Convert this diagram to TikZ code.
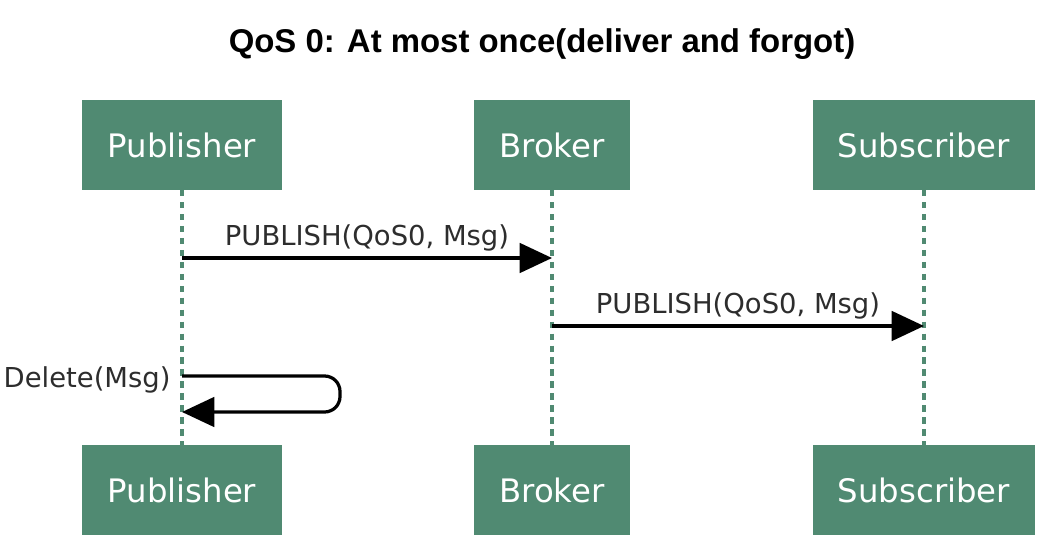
\documentclass[tikz,border=0pt]{standalone}
\usepackage{fontspec}
\setmainfont{DejaVu Sans}
\newfontfamily\titlefont{Liberation Sans}
\usetikzlibrary{arrows.meta,positioning}

\definecolor{boxgreen}{RGB}{80,138,114}
\definecolor{msggray}{RGB}{45,45,45}

\tikzset{
  actor/.style={fill=boxgreen, text=white, font=\fontsize{23}{27}\selectfont, minimum height=63.8pt, inner xsep=18pt},
  lifeline/.style={boxgreen, line width=3.3pt, dash pattern=on 4.5pt off 4pt},
  msg/.style={line width=2.3pt, -{Triangle[length=23pt,width=21pt]}},
  msglabel/.style={font=\fontsize{19.5}{23}\selectfont, text=msggray, inner sep=1pt},
}

\begin{document}
\begin{tikzpicture}[x=0.025cm, y=-0.025cm]
    \useasboundingbox (0,0) rectangle (1055,552);

    % Title
    \node (title) at (542,44) {\titlefont\bfseries\fontsize{23.4}{28}\selectfont QoS 0: At most once(deliver and forgot)};

    % Actors
    \node (pub_top) [actor] at (182,145) {Publisher};
    \node (brk_top) [actor] at (552,145) {Broker};
    \node (sub_top) [actor] at (924,145) {Subscriber};
    \node (pub_bot) [actor, below of=pub_top, node distance=8.625cm] {Publisher};
    \node (brk_bot) [actor, below of=brk_top, node distance=8.625cm] {Broker};
    \node (sub_bot) [actor, below of=sub_top, node distance=8.625cm] {Subscriber};

    % Lifelines
    \draw [lifeline] (pub_top) -- (pub_bot);
    \draw [lifeline] (brk_top) -- (brk_bot);
    \draw [lifeline] (sub_top) -- (sub_bot);

    % Points on the lifelines
    \coordinate (pub_send) at (pub_top.south |- 0,258);
    \coordinate (brk_recv) at (brk_top.south |- 0,258);
    \coordinate (brk_send) at (brk_top.south |- 0,326);
    \coordinate (sub_recv) at (sub_top.south |- 0,326);
    \coordinate (del_out) at (pub_top.south |- 0,376);
    \coordinate (del_in) at (pub_top.south |- 0,412);

    % Messages
    \draw [msg] (pub_send) -- node [msglabel, above=3pt] {PUBLISH(QoS0, Msg)} (brk_recv);
    \draw [msg] (brk_send) -- node [msglabel, above=3pt] {PUBLISH(QoS0, Msg)} (sub_recv);
    \draw [msg, rounded corners=11pt] (del_out) node [msglabel, left=6pt, yshift=-3pt] {Delete(Msg)}
        -- (del_out -| 340,0) -- (del_in -| 340,0) -- (del_in);

\end{tikzpicture}
\end{document}
